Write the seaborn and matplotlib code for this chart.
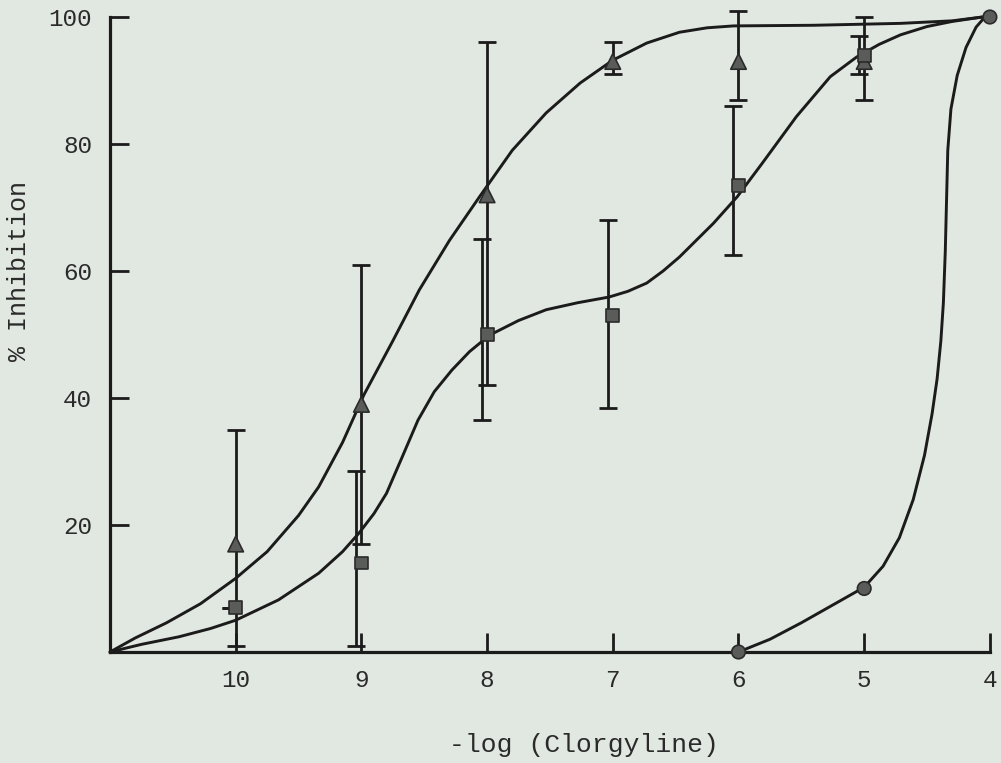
import numpy as np
import pandas as pd
import seaborn as sns
import matplotlib.pyplot as plt

# measured points (x = -log[clorgyline], y = % inhibition)
tri_x = [10, 9, 8, 7, 6, 5]
tri_y = [17, 39, 72, 93, 93, 93]
tri_lo = [16, 22, 30, 2, 6, 6]
tri_hi = [18, 22, 24, 3, 8, 7]

sq_x = [10, 9, 8, 7, 6, 5]
sq_y = [7, 14, 50, 53, 73.5, 94]
sq_lo = [0, 13, 13.5, 14.5, 11, 3]
sq_hi = [0, 14.5, 15, 15, 12.5, 3]

circ_x = [6, 5, 4]
circ_y = [0, 10, 100]

# hand-drawn curves
tri_curve_x = [11.0, 10.8, 10.55, 10.28, 10.0, 9.75, 9.5, 9.34, 9.15, 8.98, 8.75,
               8.54, 8.3, 8.06, 7.8, 7.53, 7.26, 7.0, 6.73, 6.47, 6.25, 6.04,
               5.4, 4.71, 4.3, 4.06]
tri_curve_y = [0.0, 2.2, 4.6, 7.6, 11.6, 15.8, 21.5, 26.0, 33.0, 40.5, 49.0,
               57.0, 64.8, 71.7, 79.0, 84.9, 89.6, 93.2, 95.9, 97.6, 98.3, 98.6,
               98.7, 99.0, 99.4, 100.0]

sq_curve_x = [11.0, 10.75, 10.45, 10.2, 10.0, 9.66, 9.34, 9.15, 9.02, 8.9, 8.8,
              8.68, 8.55, 8.42, 8.28, 8.14, 7.98, 7.75, 7.53, 7.28, 7.03, 6.88,
              6.73, 6.6, 6.47, 6.2, 6.01, 5.81, 5.54, 5.27, 5.06, 4.88, 4.71,
              4.5, 4.3, 4.06]
sq_curve_y = [0.0, 1.2, 2.4, 3.7, 5.0, 8.2, 12.4, 15.8, 18.7, 21.8, 25.0,
              30.5, 36.5, 41.0, 44.4, 47.3, 49.9, 52.2, 53.9, 55.0, 55.9, 56.8,
              58.1, 60.0, 62.2, 67.5, 71.7, 77.0, 84.3, 90.6, 93.7, 95.7, 97.2,
              98.5, 99.3, 100.0]

circ_curve_x = [6.0, 5.75, 5.5, 5.25, 5.0, 4.85, 4.72, 4.61, 4.52, 4.46, 4.42,
                4.39, 4.37, 4.355, 4.345, 4.335, 4.31, 4.26, 4.19, 4.11, 4.04]
circ_curve_y = [0.0, 2.0, 4.6, 7.4, 10.2, 13.5, 18.0, 24.0, 31.0, 37.5, 43.0,
                49.0, 55.0, 63.0, 71.0, 79.0, 85.5, 90.8, 95.2, 98.4, 100.0]

y_ticks = [20, 40, 60, 80, 100]
x_ticks = [10, 9, 8, 7, 6, 5, 4]

bg = "#e1e7e1"
ink = "#1b1b1b"

sns.set_style("ticks")
plt.rcParams["font.family"] = ["Liberation Mono", "DejaVu Sans Mono"]

fig = plt.figure(figsize=(10.01, 7.63), dpi=100, facecolor=bg)
ax = fig.add_axes([0.1099, 0.1455, 0.879, 0.8322])
ax.set_facecolor(bg)

# fitted curves
for cx, cy in [(tri_curve_x, tri_curve_y), (sq_curve_x, sq_curve_y), (circ_curve_x, circ_curve_y)]:
    sns.lineplot(x=cx, y=cy, sort=False, color=ink, lw=2.1, ax=ax, clip_on=False,
                 solid_joinstyle="round", solid_capstyle="round")

# error bars
ax.errorbar(tri_x, tri_y, yerr=[tri_lo, tri_hi], fmt="none", ecolor=ink,
            elinewidth=2.0, capsize=6.5, capthick=2.0, clip_on=False)
ax.errorbar(np.array(sq_x) + 0.04, sq_y, yerr=[sq_lo, sq_hi], fmt="none", ecolor=ink,
            elinewidth=2.0, capsize=6.5, capthick=2.0, clip_on=False)

# markers
pts = pd.DataFrame({
    "x": tri_x + sq_x + circ_x,
    "y": tri_y + sq_y + circ_y,
    "kind": ["tri"] * len(tri_x) + ["sq"] * len(sq_x) + ["circ"] * len(circ_x),
})
sns.scatterplot(data=pts, x="x", y="y", style="kind", size="kind",
                markers={"tri": "^", "sq": "s", "circ": "o"},
                sizes={"tri": 125, "sq": 85, "circ": 95},
                color="#5a5c5a", edgecolor="#2a2a2a", linewidth=1.2,
                legend=False, ax=ax, clip_on=False, zorder=5)

ax.set_xlim(11.0, 4.0)
ax.set_ylim(0, 100)
ax.set_xticks(x_ticks)
ax.set_xticklabels([str(t) for t in x_ticks])
ax.set_yticks(y_ticks)
ax.set_yticklabels([str(t) for t in y_ticks])

for side in ["top", "right"]:
    ax.spines[side].set_visible(False)
for side in ["left", "bottom"]:
    ax.spines[side].set_linewidth(2.3)
    ax.spines[side].set_color(ink)

ax.tick_params(axis="both", direction="in", length=14, width=2.0, color=ink,
               labelsize=17.5, labelcolor="#2a2a2a")
ax.tick_params(axis="y", pad=13)
ax.tick_params(axis="x", pad=12)

ax.set_xlabel("-log (Clorgyline)", fontsize=19, color="#2a2a2a")
ax.xaxis.set_label_coords(0.539, -0.146)
ax.xaxis.label.set_va("center")
ax.set_ylabel("% Inhibition", fontsize=18, color="#2a2a2a")
ax.yaxis.set_label_coords(-0.103, 0.60)
ax.yaxis.label.set_va("center")

fig.savefig("out.png", dpi=100, facecolor=bg)
